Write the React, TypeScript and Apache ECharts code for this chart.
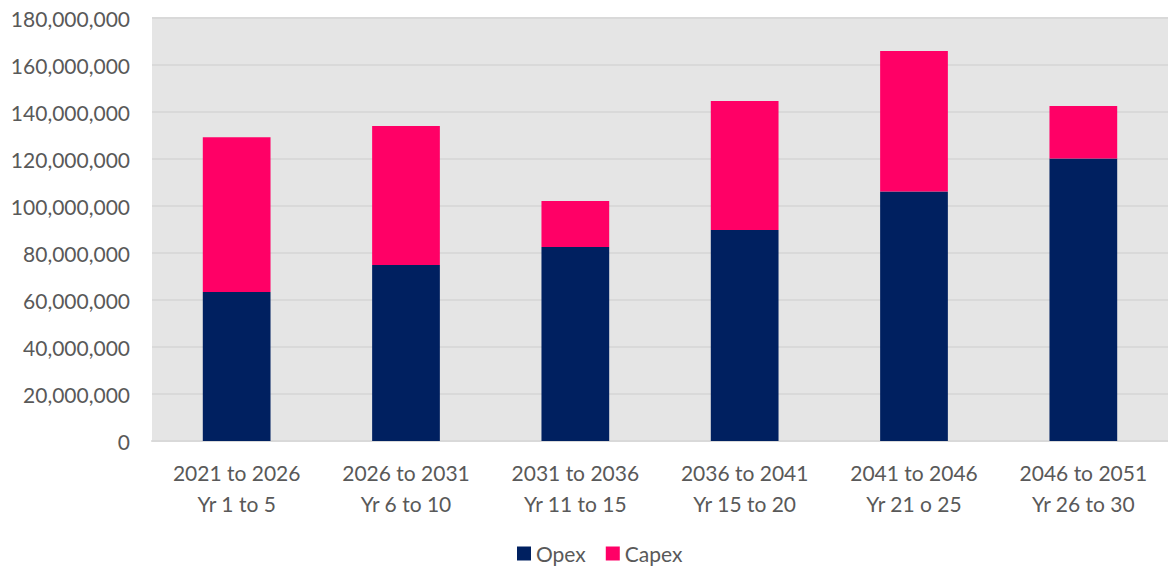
import React, { useEffect, useRef } from "react";
import * as echarts from "echarts";

const categories = [
  "2021 to 2026\nYr 1 to 5",
  "2026 to 2031\nYr 6 to 10",
  "2031 to 2036\nYr 11 to 15",
  "2036 to 2041\nYr 15 to 20",
  "2041 to 2046\nYr 21 o 25",
  "2046 to 2051\nYr 26 to 30",
];
const opex = [63400000, 74900000, 82600000, 89800000, 106200000, 120200000];
const capex = [65900000, 59100000, 19500000, 54900000, 59800000, 22400000];

const FONT = "Lato, 'Open Sans', sans-serif";

export default function App() {
  const ref = useRef<HTMLDivElement>(null);
  useEffect(() => {
    document.body.style.margin = "0";
    const chart = echarts.init(ref.current!, null, { renderer: "svg" });
    chart.setOption({
      animation: false,
      textStyle: { fontFamily: FONT },
      grid: { left: 152, right: 0, top: 18, bottom: 128, containLabel: false, show: true, backgroundColor: "#e5e5e5", borderWidth: 0 },
      legend: {
        top: 538,
        left: 512,
        icon: "rect",
        itemWidth: 14,
        itemHeight: 14,
        itemGap: 20,
        textStyle: { fontSize: 21, color: "#595959", fontFamily: FONT },
        data: ["Opex", "Capex"],
      },
      xAxis: {
        type: "category",
        data: categories,
        axisTick: { show: false },
        axisLine: { show: true, lineStyle: { color: "#d9d9d9", width: 2 } },
        axisLabel: { fontSize: 21, color: "#595959", lineHeight: 31, margin: 16, fontFamily: FONT },
      },
      yAxis: {
        type: "value",
        min: 0,
        max: 180000000,
        interval: 20000000,
        axisLine: { show: false },
        axisTick: { show: false },
        splitLine: { lineStyle: { color: "#d9d9d9", width: 2 } },
        axisLabel: {
          fontSize: 21,
          color: "#595959",
          margin: 22,
          fontFamily: FONT,
          formatter: (v: number) => v.toLocaleString("en-US"),
        },
      },
      series: [
        { name: "Opex", type: "bar", stack: "t", data: opex, barWidth: "40%", itemStyle: { color: "#002060" } },
        { name: "Capex", type: "bar", stack: "t", data: capex, barWidth: "40%", itemStyle: { color: "#ff0066" } },
      ],
    });
    return () => chart.dispose();
  }, []);
  return <div ref={ref} style={{ width: 1168, height: 569 }} />;
}
